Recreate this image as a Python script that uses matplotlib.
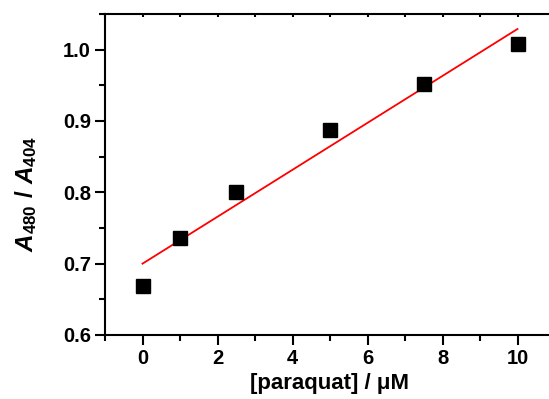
import matplotlib
matplotlib.use('Agg')
import matplotlib.pyplot as plt
from matplotlib.ticker import MultipleLocator

# data
paraquat = [0, 1, 2.5, 5, 7.5, 10]
ratio = [0.669, 0.736, 0.801, 0.888, 0.952, 1.008]

# linear fit as drawn in the original (end points)
fit_x = [0, 10]
fit_y = [0.700, 1.029]

plt.rcParams['font.family'] = ['Liberation Sans', 'DejaVu Sans']
plt.rcParams['font.weight'] = 'bold'
plt.rcParams['mathtext.fontset'] = 'custom'
plt.rcParams['mathtext.rm'] = 'Liberation Sans:bold'
plt.rcParams['mathtext.it'] = 'Liberation Sans:bold:italic'
plt.rcParams['mathtext.bf'] = 'Liberation Sans:bold'


def main():
    fig = plt.figure(figsize=(5.49, 3.99), dpi=100)
    # right spine falls outside the picture, as in the original crop
    ax = fig.add_axes([105 / 549, 1 - 335 / 399, 450 / 549, 321 / 399])

    ax.plot(fit_x, fit_y, color='red', lw=1.3, zorder=2)
    ax.plot(paraquat, ratio, ls='none', marker='s', ms=10.5, color='black', zorder=3)

    ax.set_xlim(-1, 11)
    ax.set_ylim(0.6, 1.05)
    ax.xaxis.set_major_locator(MultipleLocator(2))
    ax.xaxis.set_minor_locator(MultipleLocator(1))
    ax.yaxis.set_major_locator(MultipleLocator(0.1))
    ax.yaxis.set_minor_locator(MultipleLocator(0.05))
    ax.yaxis.set_major_formatter(plt.FormatStrFormatter('%.1f'))

    for s in ax.spines.values():
        s.set_linewidth(1.5)

    ax.tick_params(which='major', direction='out', length=7, width=1.5,
                   labelsize=14.5, pad=3)
    ax.tick_params(which='minor', direction='out', length=4, width=1.5)
    ax.tick_params(axis='x', which='both', top=True)
    for t in ax.xaxis.get_major_ticks() + ax.xaxis.get_minor_ticks():
        t.tick2line.set_marker(3)
        t.tick2line.set_markersize(2)

    ax.set_xlabel('[paraquat] / μM', fontsize=16, fontweight='bold', labelpad=4)
    ax.set_ylabel(r'$\mathit{A_{480}\ /\ A_{404}}$', fontsize=17.5)
    ax.yaxis.set_label_coords(-0.147, 0.44)

    fig.savefig('out.png', dpi=100)


if __name__ == '__main__':
    main()
